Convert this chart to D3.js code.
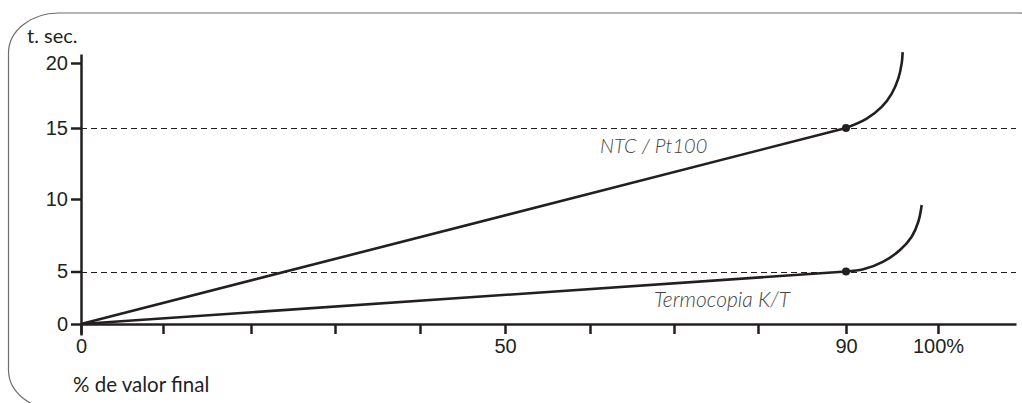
<!DOCTYPE html>
<html>
<head>
<meta charset="utf-8">
<script src="https://cdn.jsdelivr.net/npm/d3@7"></script>
<style>
  body { margin: 0; background: #fff; }
  svg { display: block; font-family: Lato, 'Open Sans', sans-serif; }
  .axis path, .axis line { stroke: #231f20; stroke-width: 2.5; }
  .axis text { fill: #231f20; font-size: 20px; }
</style>
</head>
<body>
<div id="chart"></div>
<script>
// x ticks (% de valor final) and y ticks (t. sec.)
const xTicks = [0, 10, 20, 30, 40, 50, 60, 70, 80, 90, 100];
const xLabels = { 0: '0', 50: '50', 90: '90', 100: '100%' };
const yTicks = [0, 5, 10, 15, 20];
const xMax = 108.5;

// reference levels (dashed)
const refLevels = [15, 5];

// NTC / Pt100
const ntcLine = [[0, 0], [90, 15]];
const ntcCurve = [[90, 15], [92.25, 15.72], [93.88, 16.62], [94.97, 17.65], [95.68, 18.8], [96.05, 19.95], [96.16, 20.85]];

// Termocopia K/T
const tcLine = [[0, 0], [90, 5]];
const tcCurve = [[90, 5], [91.88, 5.15], [94.05, 5.68], [95.87, 6.48], [97.14, 7.4], [97.86, 8.43], [98.23, 9.59]];

const width = 1022, height = 403;

const svg = d3.select('#chart')
    .append('svg')
    .attr('width', width)
    .attr('height', height);

// rounded frame
svg.append('rect')
    .attr('x', 8.5)
    .attr('y', 13)
    .attr('width', 1060)
    .attr('height', 397)
    .attr('rx', 50)
    .attr('ry', 40)
    .attr('fill', 'none')
    .attr('stroke', '#6d6d6d')
    .attr('stroke-width', 1.2);

// the drawing is hand spaced, so the scales are piecewise
const xScale = d3.scaleLinear()
    .domain(xTicks.concat([xMax]))
    .range([81, 163, 251, 335, 420, 505, 590, 674, 758, 846, 938, 1016]);

const yScale = d3.scaleLinear()
    .domain([-1].concat(yTicks, [20.7]))
    .range([335, 324, 271.5, 199, 128, 63, 54]);

// dashed reference lines
svg.selectAll('.ref')
    .data(refLevels)
    .enter().append('line')
    .attr('class', 'ref')
    .attr('x1', xScale(0))
    .attr('x2', xScale(xMax))
    .attr('y1', d => Math.round(yScale(d)) + 0.5)
    .attr('y2', d => Math.round(yScale(d)) + 0.5)
    .attr('stroke', '#231f20')
    .attr('stroke-width', 1.2)
    .attr('stroke-dasharray', '6,4');

// axes
const xAxis = d3.axisBottom(xScale)
    .tickValues(xTicks)
    .tickSize(10)
    .tickSizeOuter(0)
    .tickPadding(5)
    .tickFormat(d => xLabels[d] || '');

svg.append('g')
    .attr('class', 'axis x-axis')
    .attr('transform', `translate(0,${yScale(0)})`)
    .call(xAxis);

const yAxis = d3.axisLeft(yScale)
    .tickValues(yTicks)
    .tickSize(10)
    .tickSizeOuter(0)
    .tickPadding(3);

svg.append('g')
    .attr('class', 'axis y-axis')
    .attr('transform', `translate(${xScale(0)},0)`)
    .call(yAxis);

// series
const line = d3.line()
    .x(d => xScale(d[0]))
    .y(d => yScale(d[1]));

const curve = d3.line()
    .x(d => xScale(d[0]))
    .y(d => yScale(d[1]))
    .curve(d3.curveCatmullRom.alpha(0.5));

[[ntcLine, ntcCurve], [tcLine, tcCurve]].forEach(([straight, bend]) => {
    svg.append('path')
        .attr('d', line(straight))
        .attr('fill', 'none')
        .attr('stroke', '#231f20')
        .attr('stroke-width', 2.6);
    svg.append('path')
        .attr('d', curve(bend))
        .attr('fill', 'none')
        .attr('stroke', '#231f20')
        .attr('stroke-width', 2.6);
    svg.append('circle')
        .attr('cx', xScale(bend[0][0]))
        .attr('cy', yScale(bend[0][1]))
        .attr('r', 4)
        .attr('fill', '#231f20');
});

// axis titles
svg.append('text')
    .attr('x', 27)
    .attr('y', 43)
    .style('font-size', '20px')
    .attr('fill', '#231f20')
    .text('t. sec.');

svg.append('text')
    .attr('x', 73)
    .attr('y', 392)
    .style('font-size', '20.5px')
    .attr('fill', '#231f20')
    .text('% de valor final');

// series labels
svg.append('text')
    .attr('x', 600)
    .attr('y', 153)
    .style('font-size', '20px')
    .style('font-style', 'italic')
    .style('font-weight', 300)
    .attr('fill', '#444')
    .text('NTC / Pt100');

svg.append('text')
    .attr('x', 654)
    .attr('y', 307)
    .style('font-size', '21px')
    .style('font-style', 'italic')
    .style('font-weight', 300)
    .attr('fill', '#444')
    .text('Termocopia K/T');
</script>
</body>
</html>
